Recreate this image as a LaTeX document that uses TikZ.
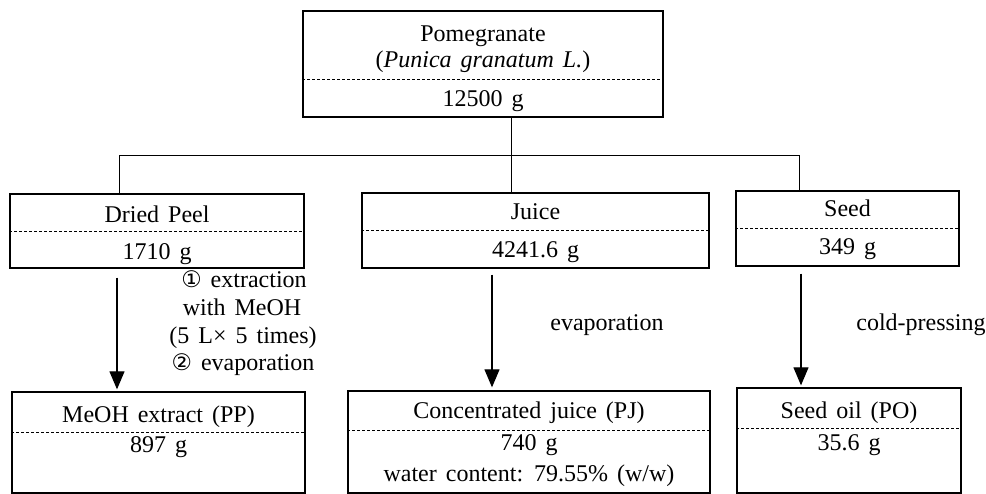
\documentclass[tikz,border=0pt]{standalone}
\usepackage{fontspec}
\setmainfont[WordSpace=1.5]{Liberation Serif}
\newfontfamily\symf[Scale=0.95]{DejaVu Sans}
\usetikzlibrary{arrows.meta}
\begin{document}
\begin{tikzpicture}[x=1pt,y=-1pt,
  box/.style={draw, line width=1.3pt, inner sep=0pt, rectangle},
  txt/.style={font=\fontsize{24}{28}\selectfont, anchor=base, inner sep=0pt},
  sep/.style={line width=0.8pt, dash pattern=on 3pt off 2pt},
  link/.style={line width=0.9pt},
  arr/.style={line width=1.1pt, -{Triangle[width=15pt,length=18pt]}}]
\useasboundingbox (0,0) rectangle (986,494);

% boxes
\node[box, minimum width=360pt, minimum height=106pt] (top) at (483,64) {};
\node[box, minimum width=294pt, minimum height=74pt] (peel) at (157,231) {};
\node[box, minimum width=347pt, minimum height=75pt] (juice) at (535.5,230.5) {};
\node[box, minimum width=223pt, minimum height=75pt] (seed) at (847.5,228.5) {};
\node[box, minimum width=293pt, minimum height=101pt] (meoh) at (158.5,442.5) {};
\node[box, minimum width=362pt, minimum height=102pt] (conc) at (529,442) {};
\node[box, minimum width=224pt, minimum height=105pt] (oil) at (849,440.5) {};

% dashed separators
\draw[sep] (top.west |- 0,79) -- (top.east |- 0,79);
\draw[sep] (peel.west |- 0,231) -- (peel.east |- 0,231);
\draw[sep] (juice.west |- 0,230) -- (juice.east |- 0,230);
\draw[sep] (seed.west |- 0,228) -- (seed.east |- 0,228);
\draw[sep] (meoh.west |- 0,432) -- (meoh.east |- 0,432);
\draw[sep] (conc.west |- 0,430) -- (conc.east |- 0,430);
\draw[sep] (oil.west |- 0,428) -- (oil.east |- 0,428);

% texts
\node[txt] (t1) at (483,42) {Pomegranate};
\node[txt] (t2) at (483,68) {(\textit{Punica granatum L.})};
\node[txt] (t3) at (483,107) {12500 g};
\node[txt] (p1) at (157,223) {Dried Peel};
\node[txt] (p2) at (157,260) {1710 g};
\node[txt] (j1) at (535.5,220) {Juice};
\node[txt] (j2) at (535.5,258) {4241.6 g};
\node[txt] (s1) at (847.5,217) {Seed};
\node[txt] (s2) at (847.5,255) {349 g};
\node[txt] (m1) at (158.5,422) {MeOH extract (PP)};
\node[txt] (m2) at (158.5,453) {897 g};
\node[txt] (c1) at (529,418) {Concentrated juice (PJ)};
\node[txt] (c2) at (529,450) {740 g};
\node[txt] (c3) at (529,482) {water content: 79.55\% (w/w)};
\node[txt] (o1) at (849,418) {Seed oil (PO)};
\node[txt] (o2) at (849,450) {35.6 g};

% process labels
\node[txt] (l1) at (244,288) {{\symf ①} extraction};
\node[txt] (l2) at (242,316) {with MeOH};
\node[txt] (l3) at (243,344) {(5 L× 5 times)};
\node[txt] (l4) at (243,371) {{\symf ②} evaporation};
\node[txt] (ev) at (607,331) {evaporation};
\node[txt] (cp) at (921,331) {cold-pressing};

% connectors
\coordinate (jl) at (119,155);
\coordinate (jr) at (799,155);
\coordinate (jc) at (511,155);
\draw[link] (top.south -| jc) -- (juice.north -| jc);
\draw[link] (peel.north -| jl) -- (jl) -- (jr) -- (seed.north -| jr);

% arrows
\coordinate (a1) at (117,0);
\coordinate (a2) at (492,0);
\coordinate (a3) at (801,0);
\draw[arr, shorten <=9pt, shorten >=2pt] (peel.south -| a1) -- (meoh.north -| a1);
\draw[arr, shorten <=6pt, shorten >=3pt] (juice.south -| a2) -- (conc.north -| a2);
\draw[arr, shorten <=7pt, shorten >=2pt] (seed.south -| a3) -- (oil.north -| a3);
\end{tikzpicture}
\end{document}
